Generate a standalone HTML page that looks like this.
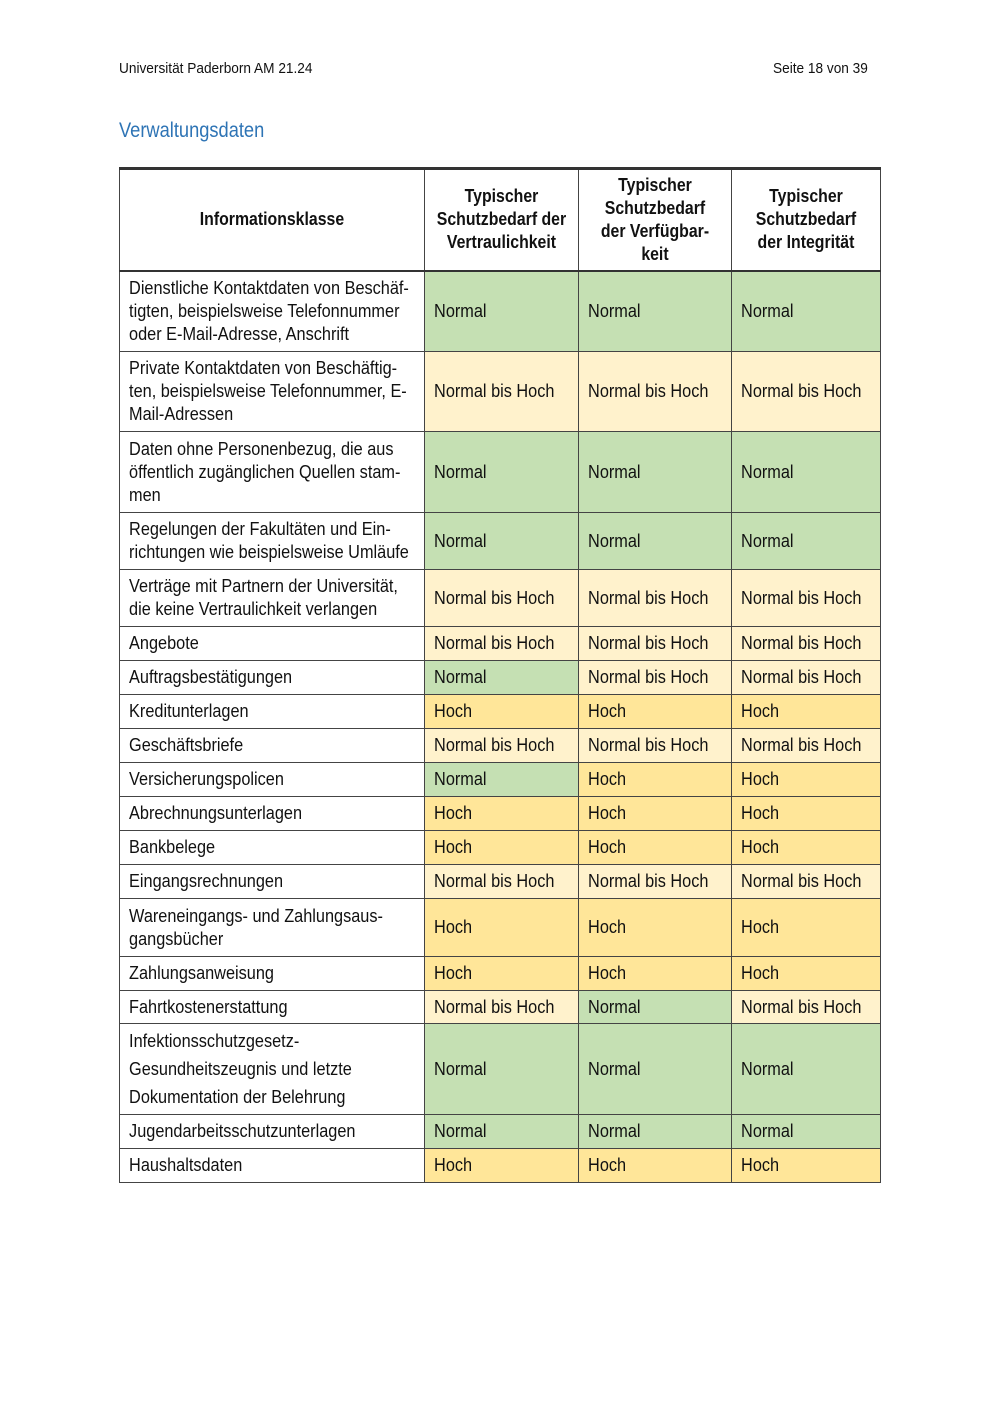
<!DOCTYPE html>
<html><head><meta charset="utf-8"><style>
body{margin:0;width:1000px;height:1414px;background:#fff;font-family:"Liberation Sans",Arial,sans-serif;color:#111;position:relative;overflow:hidden}
.hd{position:absolute;top:60px;font-size:15px}
.hd span{display:inline-block;transform:scaleX(.91);transform-origin:left;white-space:nowrap}
h2{position:absolute;left:119px;top:119px;margin:0;font-weight:normal;color:#2e74b5;font-size:21px;transform:scaleX(.87);transform-origin:left;white-space:nowrap}
table{position:absolute;left:119px;top:167px;border-collapse:collapse;table-layout:fixed;width:761px;border-top:3px solid #333}
td{border:1px solid #444;padding:0;font-size:18px;line-height:23px;vertical-align:middle;overflow:hidden}
td>div{transform:scaleX(.905);transform-origin:left;width:110.5%;white-space:nowrap;padding-left:10px;box-sizing:border-box}
th{border:1px solid #444;border-bottom:2px solid #333;font-size:18px;line-height:23px;padding:0;overflow:hidden}
th>div{transform:scaleX(.88);transform-origin:left;width:113.6%;text-align:center;white-space:nowrap}
.g{background:#c5e0b3}.y{background:#fff2cc}.h{background:#ffe699}
</style></head><body>
<div class="hd" style="left:119px"><span>Universität Paderborn AM 21.24</span></div>
<div class="hd" style="left:773px"><span>Seite 18 von 39</span></div>
<h2>Verwaltungsdaten</h2>
<table>
<colgroup><col style="width:305px"><col style="width:154px"><col style="width:153px"><col style="width:149px"></colgroup>
<tr style="height:102px"><th><div>Informationsklasse</div></th><th><div>Typischer<br>Schutzbedarf der<br>Vertraulichkeit</div></th><th><div>Typischer<br>Schutzbedarf<br>der Verfügbar-<br>keit</div></th><th><div>Typischer<br>Schutzbedarf<br>der Integrität</div></th></tr>
<tr style="height:81px"><td><div>Dienstliche Kontaktdaten von Beschäf-<br>tigten, beispielsweise Telefonnummer<br>oder E-Mail-Adresse, Anschrift</div></td><td class="g"><div>Normal</div></td><td class="g"><div>Normal</div></td><td class="g"><div>Normal</div></td></tr>
<tr style="height:80px"><td><div>Private Kontaktdaten von Beschäftig-<br>ten, beispielsweise Telefonnummer, E-<br>Mail-Adressen</div></td><td class="y"><div>Normal bis Hoch</div></td><td class="y"><div>Normal bis Hoch</div></td><td class="y"><div>Normal bis Hoch</div></td></tr>
<tr style="height:81px"><td><div>Daten ohne Personenbezug, die aus<br>öffentlich zugänglichen Quellen stam-<br>men</div></td><td class="g"><div>Normal</div></td><td class="g"><div>Normal</div></td><td class="g"><div>Normal</div></td></tr>
<tr style="height:57px"><td><div>Regelungen der Fakultäten und Ein-<br>richtungen wie beispielsweise Umläufe</div></td><td class="g"><div>Normal</div></td><td class="g"><div>Normal</div></td><td class="g"><div>Normal</div></td></tr>
<tr style="height:57px"><td><div>Verträge mit Partnern der Universität,<br>die keine Vertraulichkeit verlangen</div></td><td class="y"><div>Normal bis Hoch</div></td><td class="y"><div>Normal bis Hoch</div></td><td class="y"><div>Normal bis Hoch</div></td></tr>
<tr style="height:34px"><td><div>Angebote</div></td><td class="y"><div>Normal bis Hoch</div></td><td class="y"><div>Normal bis Hoch</div></td><td class="y"><div>Normal bis Hoch</div></td></tr>
<tr style="height:34px"><td><div>Auftragsbestätigungen</div></td><td class="g"><div>Normal</div></td><td class="y"><div>Normal bis Hoch</div></td><td class="y"><div>Normal bis Hoch</div></td></tr>
<tr style="height:34px"><td><div>Kreditunterlagen</div></td><td class="h"><div>Hoch</div></td><td class="h"><div>Hoch</div></td><td class="h"><div>Hoch</div></td></tr>
<tr style="height:34px"><td><div>Geschäftsbriefe</div></td><td class="y"><div>Normal bis Hoch</div></td><td class="y"><div>Normal bis Hoch</div></td><td class="y"><div>Normal bis Hoch</div></td></tr>
<tr style="height:34px"><td><div>Versicherungspolicen</div></td><td class="g"><div>Normal</div></td><td class="h"><div>Hoch</div></td><td class="h"><div>Hoch</div></td></tr>
<tr style="height:34px"><td><div>Abrechnungsunterlagen</div></td><td class="h"><div>Hoch</div></td><td class="h"><div>Hoch</div></td><td class="h"><div>Hoch</div></td></tr>
<tr style="height:34px"><td><div>Bankbelege</div></td><td class="h"><div>Hoch</div></td><td class="h"><div>Hoch</div></td><td class="h"><div>Hoch</div></td></tr>
<tr style="height:34px"><td><div>Eingangsrechnungen</div></td><td class="y"><div>Normal bis Hoch</div></td><td class="y"><div>Normal bis Hoch</div></td><td class="y"><div>Normal bis Hoch</div></td></tr>
<tr style="height:58px"><td><div>Wareneingangs- und Zahlungsaus-<br>gangsbücher</div></td><td class="h"><div>Hoch</div></td><td class="h"><div>Hoch</div></td><td class="h"><div>Hoch</div></td></tr>
<tr style="height:34px"><td><div>Zahlungsanweisung</div></td><td class="h"><div>Hoch</div></td><td class="h"><div>Hoch</div></td><td class="h"><div>Hoch</div></td></tr>
<tr style="height:33px"><td><div>Fahrtkostenerstattung</div></td><td class="y"><div>Normal bis Hoch</div></td><td class="g"><div>Normal</div></td><td class="y"><div>Normal bis Hoch</div></td></tr>
<tr style="height:91px"><td><div style="line-height:28px">Infektionsschutzgesetz-<br>Gesundheitszeugnis und letzte<br>Dokumentation der Belehrung</div></td><td class="g"><div>Normal</div></td><td class="g"><div>Normal</div></td><td class="g"><div>Normal</div></td></tr>
<tr style="height:34px"><td><div>Jugendarbeitsschutzunterlagen</div></td><td class="g"><div>Normal</div></td><td class="g"><div>Normal</div></td><td class="g"><div>Normal</div></td></tr>
<tr style="height:34px"><td><div>Haushaltsdaten</div></td><td class="h"><div>Hoch</div></td><td class="h"><div>Hoch</div></td><td class="h"><div>Hoch</div></td></tr>
</table>
</body></html>
